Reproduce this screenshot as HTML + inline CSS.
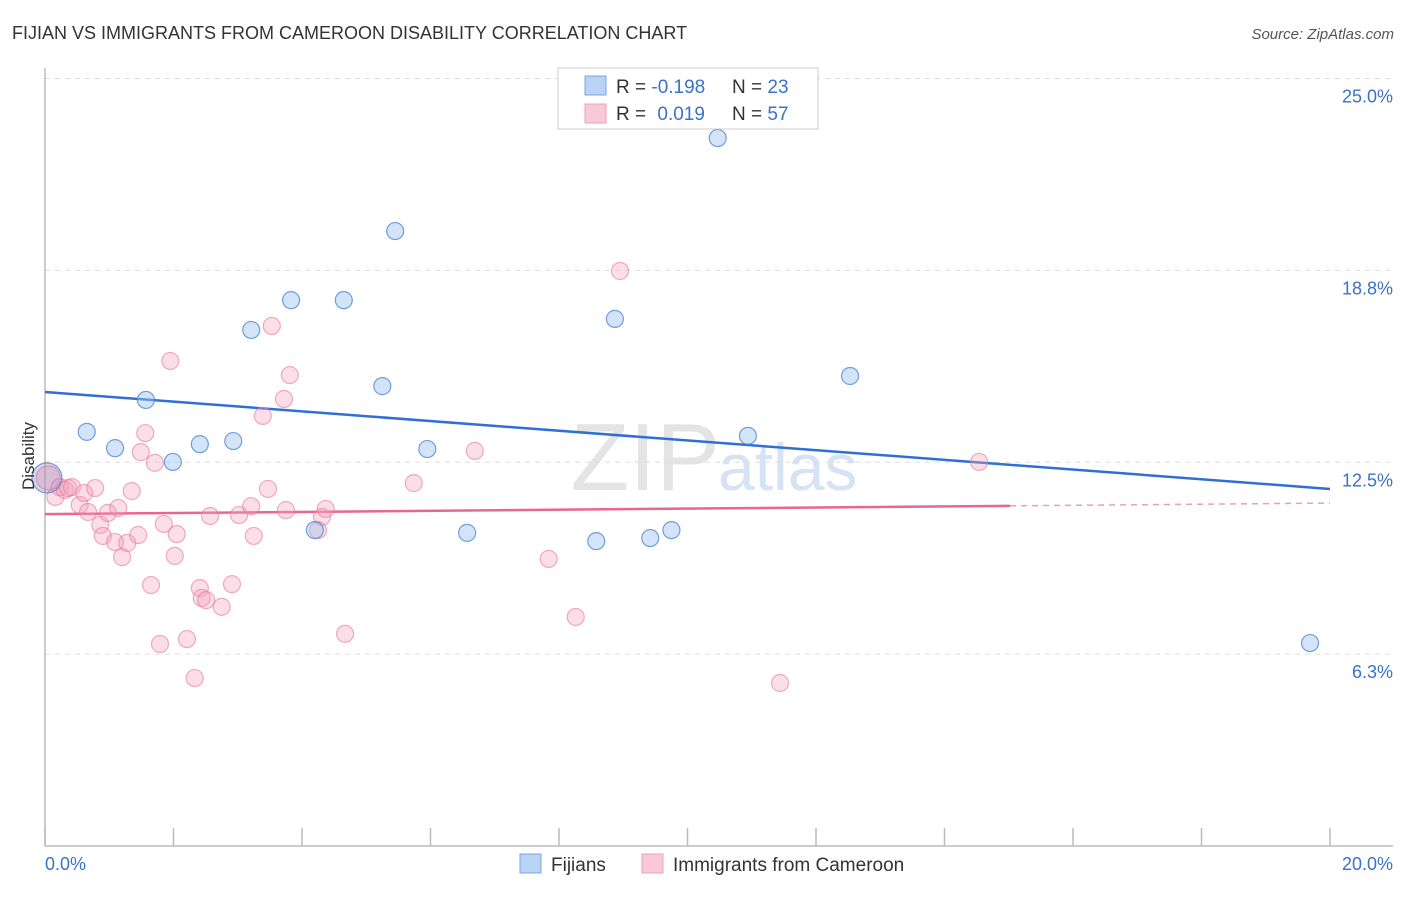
<!DOCTYPE html>
<html><head><meta charset="utf-8"><style>
body{margin:0;background:#fff;font-family:"Liberation Sans",sans-serif;}
svg text{font-family:"Liberation Sans",sans-serif;}
</style></head><body>
<svg id="chart" width="1406" height="892" xmlns="http://www.w3.org/2000/svg">
<text x="12" y="39" font-size="18" fill="#333">FIJIAN VS IMMIGRANTS FROM CAMEROON DISABILITY CORRELATION CHART</text>
<text x="1394" y="39" font-size="15" fill="#555" text-anchor="end" font-style="italic">Source: ZipAtlas.com</text>
<text x="720" y="490" font-size="96" fill="#e4e4e4" text-anchor="end" font-family="Liberation Serif">ZIP</text>
<text x="718" y="490" font-size="66" fill="#d5e3f5">atlas</text>
<g id="grid"></g>
<g id="axes"></g>
<g id="trends"></g>
<g id="points"></g>
<text transform="translate(34,456) rotate(-90)" font-size="17" fill="#333" text-anchor="middle">Disability</text>
<g>
<rect x="558" y="68" width="260" height="61" fill="#fff" stroke="#ccc"/>
<rect x="585" y="76" width="21" height="19" fill="#b8d3f5" stroke="#7aa5e0"/>
<rect x="585" y="104" width="21" height="19" fill="#f9c9d7" stroke="#eda0b7"/>
<text x="616" y="93" font-size="19" fill="#333">R = <tspan fill="#3a72c9">-0.198</tspan></text>
<text x="732" y="93" font-size="19" fill="#333">N = <tspan fill="#3a72c9">23</tspan></text>
<text x="616" y="120" font-size="19" fill="#333">R = <tspan fill="#3a72c9" dx="6">0.019</tspan></text>
<text x="732" y="120" font-size="19" fill="#333">N = <tspan fill="#3a72c9">57</tspan></text>
</g>
<g>
<rect x="520" y="854" width="21" height="19" fill="#b8d3f5" stroke="#7aa5e0"/>
<text x="551" y="871" font-size="19" fill="#333">Fijians</text>
<rect x="642" y="854" width="21" height="19" fill="#f9c9d7" stroke="#eda0b7"/>
<text x="673" y="871" font-size="19" fill="#333">Immigrants from Cameroon</text>
</g>
</svg>
<script>
const yTicks=[25,18.75,12.5,6.25];
const yTickLabels=["25.0%","18.8%","12.5%","6.3%"];
const xTickLabels=["0.0%","20.0%"];
const fijiX=[0.03,0.65,1.09,1.57,1.99,2.41,2.93,3.21,3.83,4.20,4.65,5.25,5.45,5.95,6.57,8.58,8.87,9.42,9.75,10.47,10.94,12.53,19.69];
const fijiY=[11.99,13.49,12.96,14.53,12.51,13.09,13.19,16.81,17.78,10.29,17.78,14.98,20.03,12.93,10.20,9.93,17.17,10.03,10.29,23.06,13.36,15.31,6.61];
const camX=[0.05,0.16,0.23,0.31,0.36,0.42,0.54,0.61,0.67,0.78,0.86,0.90,0.98,1.09,1.14,1.28,1.20,1.35,1.45,1.49,1.56,1.65,1.71,1.79,1.85,1.95,2.02,2.05,2.21,2.33,2.41,2.44,2.51,2.57,2.75,2.91,3.02,3.21,3.25,3.39,3.47,3.53,3.72,3.75,3.81,4.25,4.31,4.37,4.67,5.74,6.69,7.84,8.26,8.95,11.44,14.54];
const camY=[11.99,11.37,11.69,11.60,11.66,11.69,11.11,11.50,10.88,11.66,10.46,10.10,10.85,9.90,11.01,9.87,9.41,11.56,10.13,12.83,13.45,8.50,12.48,6.58,10.49,15.80,9.45,10.16,6.74,5.47,8.40,8.08,8.01,10.75,7.79,8.53,10.78,11.07,10.10,14.01,11.63,16.94,14.56,10.94,15.34,10.29,10.72,10.98,6.91,11.82,12.87,9.35,7.46,18.73,5.31,12.51];
const fijiTrend=[14.79,11.63];
const camTrend=[10.81,11.17];
const camTrendSolidEnd=15.02;

const NS="http://www.w3.org/2000/svg";
const X=v=>45+v/20*1285;
const Y=v=>846-v*30.7;
function mk(tag,attrs,parent){const e=document.createElementNS(NS,tag);for(const k in attrs)e.setAttribute(k,attrs[k]);document.getElementById(parent).appendChild(e);return e;}
yTicks.forEach((t,i)=>{
  const l=mk('line',{x1:45,x2:1393,y1:Y(t),y2:Y(t),stroke:'#ddd','stroke-dasharray':'5,5'},'grid');
  
  
  const tx=mk('text',{x:1393,y:Y(t)+24,'font-size':18,fill:'#3a72c9','text-anchor':'end'},'grid');
  tx.textContent=yTickLabels[i];
  
  
});
let a=mk('line',{x1:45,x2:45,y1:68,y2:846,stroke:'#bbb','stroke-width':1.5},'axes');


a=mk('line',{x1:45,x2:1393,y1:846,y2:846,stroke:'#bbb','stroke-width':1.5},'axes');


for(let i=0;i<=10;i++){
  const t=mk('line',{x1:X(i*2),x2:X(i*2),y1:828,y2:846,stroke:'#bbb','stroke-width':1.5},'axes');
  
  
}
[[0,'start',45],[20,'end',1393]].forEach((d,i)=>{
  const t=mk('text',{x:d[2],y:870,'font-size':18,fill:'#3a72c9','text-anchor':d[1]},'axes');
  t.textContent=xTickLabels[i];
  
  
});
let tl=mk('line',{x1:X(0),y1:Y(fijiTrend[0]),x2:X(20),y2:Y(fijiTrend[1]),stroke:'#2f6fd6','stroke-width':2.5},'trends');


const camAt=v=>camTrend[0]+(camTrend[1]-camTrend[0])*v/20;
tl=mk('line',{x1:X(0),y1:Y(camTrend[0]),x2:X(camTrendSolidEnd),y2:Y(camAt(camTrendSolidEnd)),stroke:'#e8678f','stroke-width':2.5},'trends');


tl=mk('line',{x1:X(camTrendSolidEnd),y1:Y(camAt(camTrendSolidEnd)),x2:X(20),y2:Y(camTrend[1]),stroke:'#e8a0b5','stroke-width':1.5,'stroke-dasharray':'6,5'},'trends');


camX.forEach((x,i)=>{
  const c=mk('circle',{cx:X(x),cy:Y(camY[i]),r:i===0?12:8.5,fill:'rgba(244,160,186,0.35)',stroke:'rgba(232,120,155,0.6)','stroke-width':1.2},'points');
  
  
});
fijiX.forEach((x,i)=>{
  const c=mk('circle',{cx:X(x),cy:Y(fijiY[i]),r:i===0?15:8.5,fill:i===0?'rgba(150,130,180,0.35)':'rgba(160,195,240,0.45)',stroke:'rgba(70,130,210,0.75)','stroke-width':1.2},'points');
  
  
});
</script>
</body></html>
